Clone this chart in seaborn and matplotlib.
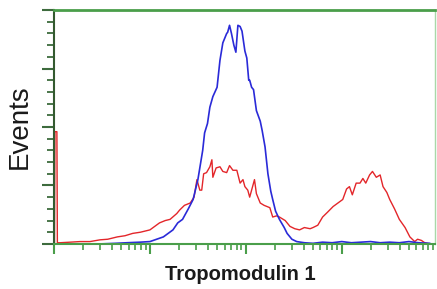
import numpy as np
import pandas as pd
import seaborn as sns
import matplotlib.pyplot as plt
from matplotlib.ticker import LogLocator, MultipleLocator, NullFormatter

# --- dati (posizione in decadi log10, conteggi) ---
BLUE_LOG = [0.48, 0.64, 0.76, 0.90, 1.00, 1.07, 1.14, 1.19, 1.24, 1.29, 1.34, 1.40,
            1.45, 1.50, 1.55, 1.57, 1.60, 1.625, 1.656, 1.70, 1.73, 1.76, 1.80, 1.81,
            1.83, 1.85, 1.875, 1.896, 1.917, 1.94, 1.96, 1.99, 2.01, 2.03, 2.04, 2.06,
            2.08, 2.11, 2.15, 2.17, 2.20, 2.23, 2.26, 2.28, 2.31, 2.35, 2.40, 2.43,
            2.48, 2.53, 2.61, 2.70, 2.80, 2.90, 3.00, 3.10, 3.20, 3.30, 3.40, 3.50,
            3.60, 3.70, 3.80, 3.92]
BLUE_COUNT = [0, 0.5, 1, 1.5, 2, 4, 6, 9, 12, 18, 21, 30,
              38, 55, 80, 95, 103, 117, 126, 134, 157, 172, 180, 181,
              187, 180, 170, 164, 187, 186, 182, 165, 159, 140, 140, 134,
              132, 114, 105, 97, 83, 60, 45, 38, 28, 21, 14, 9,
              4, 2, 1, 0.5, 1.5, 1, 2, 1, 1.5, 2, 1, 1.5,
              1, 2, 1, 0.5]

RED_LOG = [0.005, 0.01, 0.03, 0.035, 0.06, 0.17, 0.27, 0.375, 0.48, 0.56, 0.66, 0.74,
           0.82, 0.90, 1.00, 1.05, 1.10, 1.16, 1.21, 1.28, 1.31, 1.36, 1.42, 1.46,
           1.49, 1.52, 1.54, 1.56, 1.59, 1.625, 1.646, 1.656, 1.69, 1.73, 1.76, 1.80,
           1.83, 1.865, 1.906, 1.94, 1.97, 1.99, 2.02, 2.04, 2.07, 2.09, 2.11, 2.15,
           2.19, 2.22, 2.25, 2.28, 2.32, 2.35, 2.41, 2.46, 2.51, 2.56, 2.61, 2.67,
           2.70, 2.75, 2.80, 2.85, 2.91, 2.96, 3.01, 3.05, 3.08, 3.11, 3.15, 3.19,
           3.22, 3.25, 3.29, 3.32, 3.36, 3.40, 3.43, 3.47, 3.50, 3.55, 3.60, 3.66,
           3.71, 3.76, 3.79, 3.83, 3.865, 3.92]
RED_COUNT = [0, 96, 96, 1, 1, 1.5, 2, 2, 3.5, 4, 6, 7,
             9, 10, 12, 15, 18, 20, 21, 26, 29, 33, 35, 40,
             55, 46, 46, 60, 61, 66, 72, 57, 65, 66, 62, 61,
             67, 63, 63, 52, 55, 49, 46, 40, 49, 55, 43, 35,
             33, 32, 31, 23, 24, 23, 20, 15, 13, 12, 14, 13,
             14, 16, 23, 27, 32, 35, 38, 47, 49, 42, 52, 52,
             56, 52, 59, 62, 57, 59, 49, 44, 38, 30, 21, 14,
             6, 2, 4, 3, 1, 0]

GREEN = '#4a9e4a'


def main():
    blue = pd.DataFrame({'Intensity': 10 ** np.array(BLUE_LOG), 'Events': BLUE_COUNT})
    red = pd.DataFrame({'Intensity': 10 ** np.array(RED_LOG), 'Events': RED_COUNT})

    sns.set_style("white")
    plt.rcParams['font.family'] = ['Liberation Sans', 'DejaVu Sans']

    fig = plt.figure(figsize=(4.37, 2.89), dpi=100)
    ax = fig.add_axes([0.1236, 0.156, 0.8714, 0.809])

    sns.lineplot(data=red, x='Intensity', y='Events', ax=ax, color='#e3262a',
                 linewidth=1.0, estimator=None, sort=False)
    sns.lineplot(data=blue, x='Intensity', y='Events', ax=ax, color='#2a2ad8',
                 linewidth=1.2, estimator=None, sort=False)

    ax.set_xscale('log')
    ax.set_xlim(1, 10 ** 3.97)
    ax.set_ylim(0, 200)

    # assi verdi
    for side in ['top', 'bottom', 'right']:
        ax.spines[side].set_color(GREEN)
    ax.spines['top'].set_linewidth(2.0)
    ax.spines['bottom'].set_linewidth(1.5)
    ax.spines['right'].set_linewidth(1.0)
    ax.spines['right'].set_color('#a8d8a8')
    ax.spines['left'].set_color('#345a30')
    ax.spines['left'].set_linewidth(1.5)

    ax.xaxis.set_major_locator(LogLocator(base=10, numticks=10))
    ax.xaxis.set_minor_locator(LogLocator(base=10, subs=np.arange(2, 10), numticks=20))
    ax.xaxis.set_major_formatter(NullFormatter())
    ax.xaxis.set_minor_formatter(NullFormatter())
    ax.yaxis.set_major_locator(MultipleLocator(50))
    ax.yaxis.set_minor_locator(MultipleLocator(10))
    ax.set_yticklabels([])

    ax.tick_params(axis='x', which='major', direction='out', length=7, width=1.5,
                   color=GREEN, bottom=True)
    ax.tick_params(axis='x', which='minor', direction='out', length=4, width=1.2,
                   color=GREEN, bottom=True)
    ax.tick_params(axis='y', which='major', direction='out', length=8.5, width=1.5,
                   color='#3d6b3d', left=True)
    ax.tick_params(axis='y', which='minor', direction='out', length=5, width=1.3,
                   color='#3d6b3d', left=True)

    ax.set_xlabel('Tropomodulin 1', fontsize=14.5, fontweight='bold', va='center',
                  color='#1a1a1a')
    ax.set_ylabel('Events', fontsize=20, va='center', color='#1a1a1a')
    ax.xaxis.set_label_coords(0.488, -0.132)
    ax.yaxis.set_label_coords(-0.089, 0.50)
    ax.grid(False)

    fig.savefig('out.png', dpi=100)
    plt.close(fig)


if __name__ == "__main__":
    main()
